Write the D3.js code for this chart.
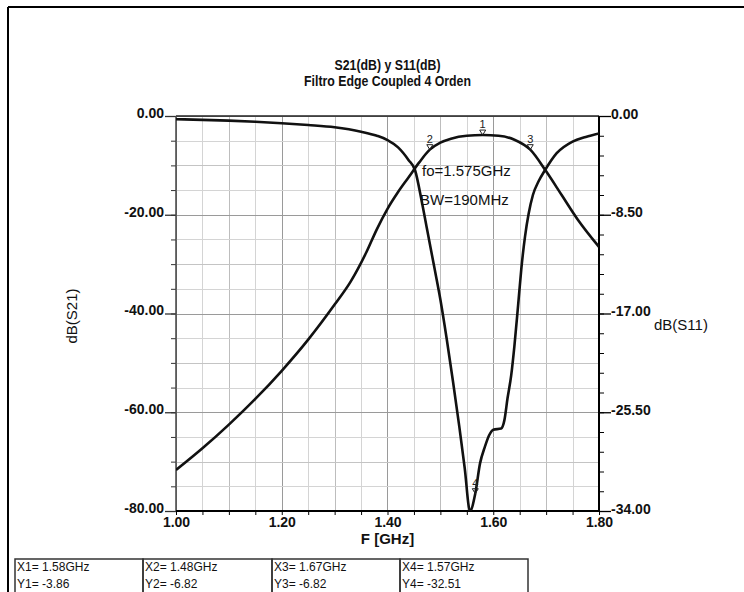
<!DOCTYPE html>
<html>
<head>
<meta charset="utf-8">
<script src="https://cdn.jsdelivr.net/npm/d3@7"></script>
<style>
  body { margin: 0; background: #fff; }
  svg { display: block; font-family: "Liberation Sans", Arial, sans-serif; }
  .tick-label { font-size: 14px; font-weight: bold; fill: #111; }
  .axis-label { font-size: 15px; fill: #111; }
  .title { font-size: 14px; font-weight: bold; fill: #111; }
  .note { font-size: 15px; fill: #111; }
  .table-text { font-size: 12px; fill: #111; }
</style>
</head>
<body>
<svg id="chart"></svg>
<script>
// Frequency axis (GHz)
const xTicks = [1.0, 1.2, 1.4, 1.6, 1.8];
const xMinor = [1.0, 1.05, 1.1, 1.15, 1.2, 1.25, 1.3, 1.35, 1.4, 1.45, 1.5, 1.55, 1.6, 1.65, 1.7, 1.75, 1.8];

// Left axis dB(S21), right axis dB(S11)
const leftTicks = [0, -20, -40, -60, -80];
const leftMinor = [0, -5, -10, -15, -20, -25, -30, -35, -40, -45, -50, -55, -60, -65, -70, -75, -80];
const rightTicks = [0, -8.5, -17, -25.5, -34];
const rightMinor = [0, -1.7, -3.4, -5.1, -6.8, -8.5, -10.2, -11.9, -13.6, -15.3, -17, -18.7, -20.4, -22.1, -23.8, -25.5, -27.2, -28.9, -30.6, -32.3, -34];

// S21 (dB), read on the left axis
const s21Freq = [1.00, 1.05, 1.10, 1.15, 1.20, 1.25, 1.30, 1.33, 1.36, 1.38, 1.40, 1.42, 1.44, 1.46, 1.48, 1.50, 1.52, 1.55, 1.58, 1.61, 1.64, 1.67, 1.70, 1.73, 1.76, 1.80];
const s21Db = [-71.7, -67.3, -62.5, -57.3, -51.6, -45.3, -38.2, -33.6, -27.6, -22.9, -18.8, -15.4, -12.4, -9.4, -6.82, -5.4, -4.6, -4.0, -3.86, -4.0, -4.8, -6.82, -11.2, -16.1, -21.0, -26.5];

// S11 (dB), read on the right axis
const s11Freq = [1.00, 1.05, 1.10, 1.15, 1.20, 1.25, 1.30, 1.35, 1.38, 1.40, 1.42, 1.44, 1.452, 1.465, 1.475, 1.488, 1.50, 1.512, 1.524, 1.536, 1.546, 1.556, 1.566, 1.575, 1.584, 1.592, 1.600, 1.615, 1.621, 1.627, 1.634, 1.640, 1.647, 1.653, 1.660, 1.667, 1.675, 1.686, 1.698, 1.72, 1.75, 1.775, 1.80];
const s11Db = [-0.28, -0.33, -0.40, -0.50, -0.63, -0.78, -0.97, -1.35, -1.70, -2.07, -2.7, -3.8, -4.65, -7.4, -9.8, -12.9, -15.8, -19.2, -22.9, -26.8, -30.3, -34.0, -32.5, -29.9, -28.5, -27.5, -27.0, -26.9, -26.2, -24.3, -22.3, -19.8, -16.3, -13.2, -10.4, -8.4, -6.8, -5.6, -4.65, -3.2, -2.2, -1.8, -1.5];

// Markers
const markerIds = ["1", "2", "3", "4"];
const markerFreq = [1.58, 1.48, 1.67, 1.566];
const markerDb = [-3.86, -6.82, -6.82, -32.51];
const markerAxis = ["left", "left", "left", "right"];
const markerXText = ["X1= 1.58GHz", "X2= 1.48GHz", "X3= 1.67GHz", "X4= 1.57GHz"];
const markerYText = ["Y1= -3.86", "Y2= -6.82", "Y3= -6.82", "Y4= -32.51"];

// Text on the plot
const titleLines = ["S21(dB) y S11(dB)", "Filtro Edge Coupled 4 Orden"];
const notes = ["fo=1.575GHz", "BW=190MHz"];

const W = 744, H = 592;
const margin = { top: 116, left: 176 };
const width = 423, height = 395;

const svg = d3.select("#chart").attr("width", W).attr("height", H);

// outer frame (left and top edges only visible)
svg.append("line").attr("x1", 8).attr("x2", 8).attr("y1", 7).attr("y2", H)
  .attr("stroke", "#000").attr("stroke-width", 2);
svg.append("line").attr("x1", 8).attr("x2", W).attr("y1", 7).attr("y2", 7)
  .attr("stroke", "#000").attr("stroke-width", 2);

const chart = svg.append("g").attr("transform", `translate(${margin.left},${margin.top})`);

// Scales
const xScale = d3.scaleLinear().domain([1.0, 1.8]).range([0, width]);
const yLeft = d3.scaleLinear().domain([-80, 0]).range([height, 0]);
const yRight = d3.scaleLinear().domain([-34, 0]).range([height, 0]);

const fmt = d => d.toFixed(2); // hyphen minus like the original

// Gridlines
chart.append("g").selectAll("line")
  .data(xMinor)
  .join("line")
  .attr("x1", d => Math.round(xScale(d)) + 0.5)
  .attr("x2", d => Math.round(xScale(d)) + 0.5)
  .attr("y1", 0).attr("y2", height)
  .attr("stroke", d => {
    const k = Math.round(d * 100);
    if (k % 20 === 0) return "#9a9a9a";
    if (k % 10 === 0) return "#bdbdbd";
    return "#d4d4d4";
  });

chart.append("g").selectAll("line")
  .data(leftMinor)
  .join("line")
  .attr("x1", 0).attr("x2", width)
  .attr("y1", d => Math.round(yLeft(d)) + 0.5)
  .attr("y2", d => Math.round(yLeft(d)) + 0.5)
  .attr("stroke", d => {
    if (d % 20 === 0) return "#9a9a9a";
    if (d % 10 === 0) return "#c4c4c4";
    return "#d4d4d4";
  });

// Axes
const leftAxis = d3.axisLeft(yLeft).tickValues(leftTicks).tickSize(11).tickPadding(1).tickFormat(fmt);
const leftMinorAxis = d3.axisLeft(yLeft).tickValues(leftMinor).tickSize(5).tickFormat("");
const rightAxis = d3.axisRight(yRight).tickValues(rightTicks).tickSize(12).tickPadding(0).tickFormat(fmt);
const rightMinorAxis = d3.axisRight(yRight).tickValues(rightMinor).tickSize(5).tickFormat("");
const bottomAxis = d3.axisBottom(xScale).tickValues(xTicks).tickSize(0).tickPadding(6).tickFormat(fmt);
const bottomMinorAxis = d3.axisBottom(xScale).tickValues(xMinor).tickSize(4).tickFormat("");

function styleAxis(g, color) {
  g.select(".domain").remove();
  g.selectAll(".tick line").attr("stroke", color).attr("stroke-width", 1.3);
  g.selectAll(".tick text").attr("class", "tick-label");
  g.attr("font-family", null).attr("font-size", null);
}

chart.append("g").call(leftMinorAxis).call(g => g.select(".domain").remove())
  .selectAll("line").attr("stroke", "#333");
chart.append("g").call(leftAxis).call(g => styleAxis(g, "#333"))
  .selectAll(".tick text").attr("dy", "0.1em").attr("x", -12);

chart.append("g").attr("transform", `translate(${width},0)`)
  .call(rightMinorAxis).call(g => g.select(".domain").remove())
  .selectAll("line").attr("stroke", "#000");
chart.append("g").attr("transform", `translate(${width},0)`)
  .call(rightAxis).call(g => styleAxis(g, "#000"))
  .selectAll(".tick text").attr("dy", "0.15em");

chart.append("g").attr("transform", `translate(0,${height})`)
  .call(bottomMinorAxis).call(g => g.select(".domain").remove())
  .selectAll("line").attr("stroke", "#000");
chart.append("g").attr("transform", `translate(0,${height})`)
  .call(bottomAxis).call(g => styleAxis(g, "#000"));

// plot border
chart.append("line").attr("x1", 0).attr("x2", width).attr("y1", 0).attr("y2", 0)
  .attr("stroke", "#222").attr("stroke-width", 1.5);
chart.append("line").attr("x1", 0).attr("x2", 0).attr("y1", 0).attr("y2", height)
  .attr("stroke", "#444").attr("stroke-width", 1.5);
chart.append("line").attr("x1", width).attr("x2", width).attr("y1", 0).attr("y2", height)
  .attr("stroke", "#000").attr("stroke-width", 2);
chart.append("line").attr("x1", 0).attr("x2", width).attr("y1", height).attr("y2", height)
  .attr("stroke", "#000").attr("stroke-width", 2);

// Curves
chart.append("clipPath").attr("id", "clip")
  .append("rect").attr("x", 0).attr("y", -2).attr("width", width).attr("height", height + 2);

const s21Line = d3.line()
  .x((d, i) => xScale(s21Freq[i]))
  .y(d => yLeft(d))
  .curve(d3.curveMonotoneX);
const s11Line = d3.line()
  .x((d, i) => xScale(s11Freq[i]))
  .y(d => yRight(d))
  .curve(d3.curveMonotoneX);

const curves = chart.append("g").attr("clip-path", "url(#clip)");
curves.append("path").attr("d", s21Line(s21Db))
  .attr("fill", "none").attr("stroke", "#111").attr("stroke-width", 2.6);
curves.append("path").attr("d", s11Line(s11Db))
  .attr("fill", "none").attr("stroke", "#111").attr("stroke-width", 2.6);

// Marker symbols with their numbers
markerIds.forEach((id, i) => {
  const mx = xScale(markerFreq[i]);
  const my = markerAxis[i] === "left" ? yLeft(markerDb[i]) : yRight(markerDb[i]);
  chart.append("path")
    .attr("d", `M${mx - 3},${my - 5} L${mx + 3},${my - 5} L${mx},${my} Z`)
    .attr("fill", "none").attr("stroke", "#222").attr("stroke-width", 1);
  chart.append("text")
    .attr("x", mx).attr("y", my - 7)
    .attr("text-anchor", "middle")
    .attr("font-size", 11)
    .attr("fill", "#222")
    .text(id);
});

// Notes on the plot
chart.append("text").attr("class", "note").attr("x", 246).attr("y", 60).text(notes[0]);
chart.append("text").attr("class", "note").attr("x", 244).attr("y", 89).text(notes[1]);

// Titles (condensed a little, the original font is narrow)
svg.selectAll(".title")
  .data(titleLines)
  .join("text")
  .attr("class", "title")
  .attr("transform", (d, i) => `translate(${margin.left + width / 2},${70 + i * 16}) scale(0.88,1)`)
  .attr("text-anchor", "middle")
  .text(d => d);

svg.append("text").attr("class", "axis-label")
  .attr("transform", "translate(77,316) rotate(-90)")
  .attr("text-anchor", "middle")
  .text("dB(S21)");

svg.append("text").attr("class", "axis-label")
  .attr("x", 654).attr("y", 330)
  .text("dB(S11)");

svg.append("text").attr("class", "axis-label")
  .attr("x", margin.left + width / 2).attr("y", 544)
  .attr("text-anchor", "middle")
  .attr("font-weight", "bold").attr("font-size", 16)
  .text("F [GHz]");

// Marker readout table
const cellW = [128, 129, 128, 128];
const cellX = [15, 143, 272, 400];
const table = svg.append("g");
markerIds.forEach((id, i) => {
  table.append("rect")
    .attr("x", cellX[i]).attr("y", 559)
    .attr("width", cellW[i]).attr("height", 50)
    .attr("fill", "none").attr("stroke", "#333").attr("stroke-width", 1.5);
  table.append("text").attr("class", "table-text")
    .attr("x", cellX[i] + 2).attr("y", 571).text(markerXText[i]);
  table.append("text").attr("class", "table-text")
    .attr("x", cellX[i] + 2).attr("y", 588).text(markerYText[i]);
});
</script>
</body>
</html>
